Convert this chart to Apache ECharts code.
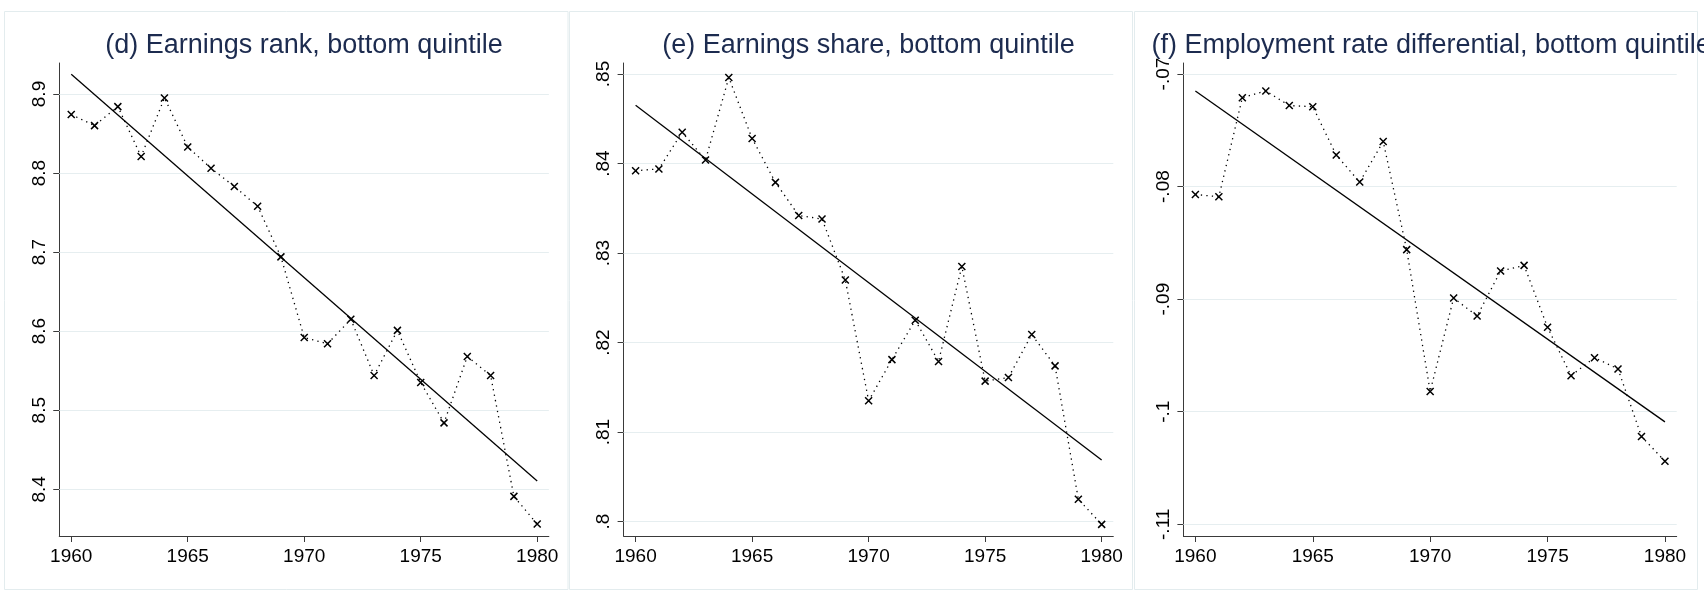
<!DOCTYPE html>
<html><head><meta charset="utf-8">
<script src="https://cdn.jsdelivr.net/npm/echarts@6/dist/echarts.min.js"></script>
<style>html,body{margin:0;padding:0;background:#fff}#c{width:1704px;height:599px}</style>
</head><body><div id="c"></div>
<script>
// ---- data ----
const years = [1960,1961,1962,1963,1964,1965,1966,1967,1968,1969,1970,1971,1972,1973,1974,1975,1976,1977,1978,1979,1980];
const rankBottom  = [8.874,8.860,8.884,8.821,8.895,8.833,8.806,8.783,8.758,8.694,8.592,8.584,8.615,8.544,8.601,8.535,8.484,8.568,8.544,8.391,8.356];
const shareBottom = [0.8392,0.8394,0.8435,0.8404,0.8496,0.8428,0.8379,0.8342,0.8338,0.8270,0.8135,0.8181,0.8225,0.8179,0.8285,0.8157,0.8161,0.8209,0.8174,0.8025,0.7997];
const empDiff     = [-0.0807,-0.0809,-0.0721,-0.0715,-0.0728,-0.0729,-0.0772,-0.0796,-0.0760,-0.0856,-0.0982,-0.0899,-0.0915,-0.0875,-0.0870,-0.0925,-0.0968,-0.0952,-0.0962,-0.1022,-0.1044];
const fitYears = [1960, 1980];
const rankFit  = [8.925, 8.4105];
const shareFit = [0.8465, 0.8069];
const empFit   = [-0.0715, -0.1009];
const xTicks = [1960,1965,1970,1975,1980];
const rankTicks  = [8.4,8.5,8.6,8.7,8.8,8.9];
const rankTickLabels  = ['8.4','8.5','8.6','8.7','8.8','8.9'];
const shareTicks = [0.80,0.81,0.82,0.83,0.84,0.85];
const shareTickLabels = ['.8','.81','.82','.83','.84','.85'];
const empTicks   = [-0.11,-0.10,-0.09,-0.08,-0.07];
const empTickLabels   = ['-.11','-.1','-.09','-.08','-.07'];
const titles = ['(d) Earnings rank, bottom quintile','(e) Earnings share, bottom quintile','(f) Employment rate differential, bottom quintile'];

// ---- layout / style ----
const FONT = "'Liberation Sans', Arial, sans-serif";
const AX = '#3a3a3a';
const GRIDC = '#e6eef0';
const panels = [
  {grid:{left:59.25, top:63, width:489.6, height:473}, ymin:8.3409, ymax:8.9392, xmin:1959.485, xmax:1980.5,
   data:rankBottom, fit:rankFit, ticks:rankTicks, labels:rankTickLabels},
  {grid:{left:623.6, top:63, width:489.7, height:473}, ymin:0.79840, ymax:0.85123, xmin:1959.485, xmax:1980.5,
   data:shareBottom, fit:shareFit, ticks:shareTicks, labels:shareTickLabels},
  {grid:{left:1183.4, top:63, width:493.3, height:473}, ymin:-0.11104, ymax:-0.06902, xmin:1959.49, xmax:1980.5,
   data:empDiff, fit:empFit, ticks:empTicks, labels:empTickLabels}
];

const grid = [], xAxis = [], yAxis = [], series = [];
panels.forEach((p, i) => {
  grid.push(Object.assign({containLabel:false, outerBoundsMode:'none'}, p.grid));
  xAxis.push({type:'value', gridIndex:i, min:p.xmin, max:p.xmax,
    axisLine:{show:true, onZero:false, lineStyle:{color:AX, width:1}},
    axisTick:{show:true, length:6, customValues:xTicks, lineStyle:{color:AX, width:1}},
    axisLabel:{customValues:xTicks, fontSize:19, color:'#000', margin:11, fontFamily:FONT, formatter:v=>String(v)},
    splitLine:{show:false}});
  const lab = {}; p.ticks.forEach((t, k) => { lab[t.toFixed(4)] = p.labels[k]; });
  yAxis.push({type:'value', gridIndex:i, min:p.ymin, max:p.ymax,
    axisLine:{show:true, onZero:false, lineStyle:{color:AX, width:1}},
    axisTick:{show:true, length:6, customValues:p.ticks, lineStyle:{color:AX, width:1}},
    axisLabel:{customValues:p.ticks, rotate:90, fontSize:19, color:'#000', margin:10, fontFamily:FONT,
      formatter:v=>lab[Number(v).toFixed(4)] ?? String(v)},
    splitLine:{show:false}});
  series.push({type:'line', xAxisIndex:i, yAxisIndex:i, z:2, silent:true,
    data: fitYears.map((y, k) => [y, p.fit[k]]), symbol:'none',
    lineStyle:{color:'#000', width:1.3, type:'solid'},
    markLine:{silent:true, symbol:'none', animation:false, z:1,
      lineStyle:{color:GRIDC, width:1.2, type:'solid'}, label:{show:false},
      data:p.ticks.map(t => ({yAxis:t}))}});
  series.push({type:'line', xAxisIndex:i, yAxisIndex:i, z:3, silent:true,
    data: years.map((y, k) => [y, p.data[k]]), showAllSymbol:true,
    symbol:'path://M0,0L10,10M10,0L0,10', symbolSize:7,
    itemStyle:{color:'rgba(0,0,0,0)', borderColor:'#000', borderWidth:1.5},
    lineStyle:{color:'#000', width:1.3, type:[1.3,4.2]}});
});

const graphic = [
  {type:'rect', shape:{x:4.5, y:11.5, width:563.5, height:578}, style:{fill:'none', stroke:'#e3ecee', lineWidth:1}, z:-1},
  {type:'rect', shape:{x:569.5, y:11.5, width:563, height:578}, style:{fill:'none', stroke:'#e3ecee', lineWidth:1}, z:-1},
  {type:'rect', shape:{x:1134.5, y:11.5, width:563, height:578}, style:{fill:'none', stroke:'#e3ecee', lineWidth:1}, z:-1},
  {type:'text', x:304, y:46, style:{text:titles[0], font:'27px '+FONT, fill:'#1c2b4f', textAlign:'center', textVerticalAlign:'middle'}},
  {type:'text', x:868.5, y:46, style:{text:titles[1], font:'27px '+FONT, fill:'#1c2b4f', textAlign:'center', textVerticalAlign:'middle'}},
  {type:'text', x:1151.4, y:46, style:{text:titles[2], font:'27px '+FONT, fill:'#1c2b4f', textAlign:'left', textVerticalAlign:'middle'}}
];

const chart = echarts.init(document.getElementById('c'), null, {renderer:'canvas'});
chart.setOption({animation:false, backgroundColor:'#fff', grid, xAxis, yAxis, series, graphic});
</script></body></html>
